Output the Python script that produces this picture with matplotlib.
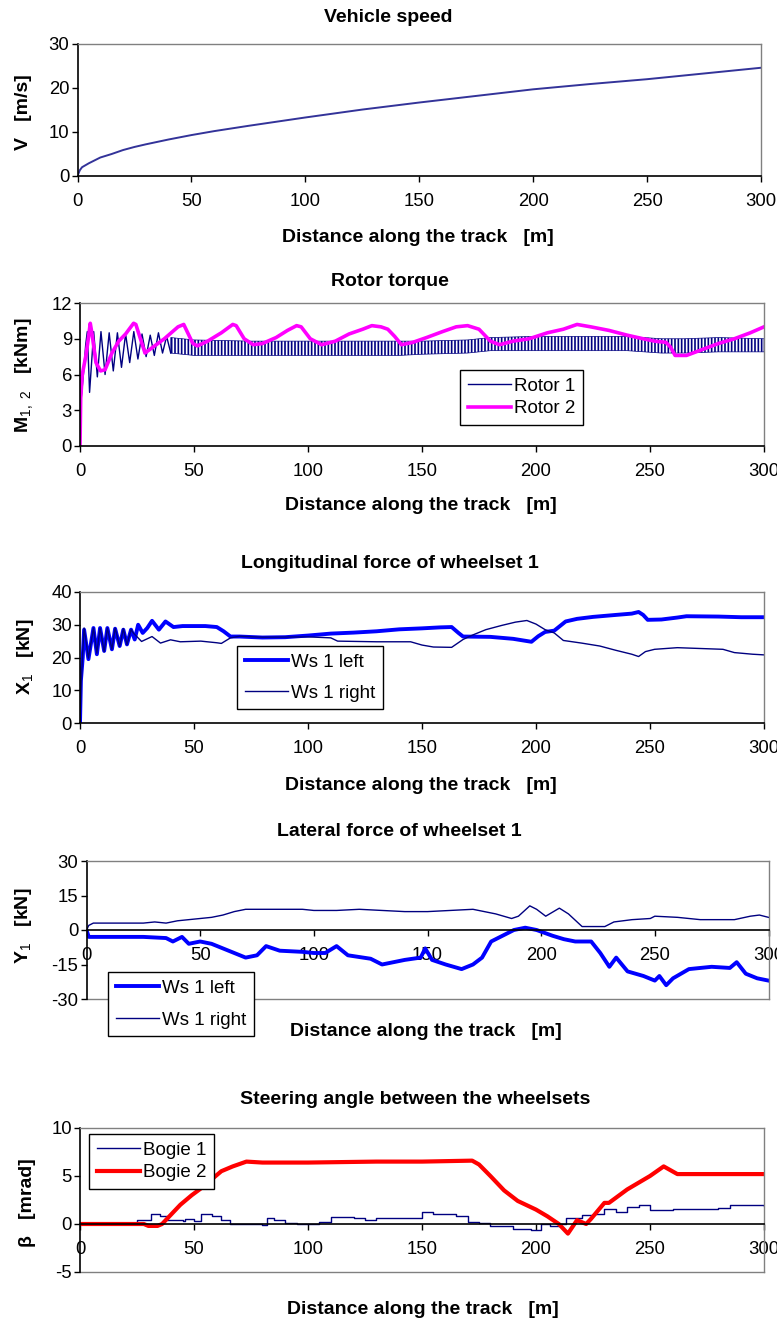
#!/usr/bin/env python3
"""Plot run-up figures: speed, rotor torque, wheelset forces, steering angle
"""

import numpy as np
import matplotlib; matplotlib.use('Agg')
import matplotlib.pyplot as plt

W, H = 777, 1323

##########################################################
# Vehicle speed
speed_x = [0, 1, 2, 5, 10, 15, 20, 25, 30, 40, 50, 60, 75, 100, 125, 150,
           175, 200, 225, 250, 275, 300]
speed_v = [0, 1.3, 2.0, 2.9, 4.2, 5.0, 5.9, 6.6, 7.2, 8.3, 9.3, 10.2, 11.4,
           13.3, 15.1, 16.7, 18.2, 19.7, 20.9, 22.0, 23.3, 24.6]

# Rotor torque, rotor 1: start transient, then a dense oscillation band
rot1_x = [0, 0.5, 1.5, 2.5, 3.2, 4.2, 6.0, 7.6, 9.2, 11.0, 12.8, 14.6, 16.4,
          18.2, 20.0, 21.8, 23.6, 25.4, 27.2, 29.0, 30.8, 32.6, 34.4, 36.2,
          38.0, 39.8]
rot1_y = [0, 4.0, 6.0, 8.5, 9.6, 4.5, 9.6, 5.8, 9.6, 6.0, 9.5, 6.3, 9.5, 6.6,
          9.4, 7.0, 9.6, 7.3, 9.4, 7.5, 9.3, 7.6, 9.5, 7.8, 9.2, 7.8]
band_x = [39.8, 50, 75, 100, 125, 140, 150, 170, 180, 200, 225, 240, 255, 265,
          280, 300]
band_hi = [9.1, 8.9, 8.8, 8.8, 8.8, 8.8, 8.8, 8.9, 9.1, 9.2, 9.2, 9.2, 9.0,
           9.0, 9.1, 9.0]
band_lo = [7.8, 7.6, 7.6, 7.6, 7.6, 7.6, 7.7, 7.8, 8.0, 8.0, 8.0, 8.0, 7.8,
           7.8, 7.9, 7.9]

# Rotor torque, rotor 2
rot2_x = [0, 0.3, 1.0, 2.5, 3.5, 4.5, 5.2, 7.0, 9.0, 11.0, 14.0, 17.0, 20.0,
          23.5, 24.5, 26.5, 28.5, 32.0, 37.0, 43.0, 45.5, 47.0, 49.5, 51.5,
          56.0, 62.0, 67.0, 68.5, 72.0, 76.0, 80.0, 86.0, 91.0, 95.0, 97.0,
          101.0, 106.0, 112.0, 118.0, 124.0, 128.0, 132.0, 135.0, 138.0,
          141.0, 146.0, 152.0, 159.0, 165.0, 170.0, 175.0, 177.0, 180.0,
          184.0, 190.0, 197.0, 205.0, 212.0, 218.0, 224.0, 232.0, 240.0,
          247.0, 252.0, 257.0, 259.0, 261.0, 266.0, 273.0, 280.0, 287.0,
          294.0, 300.0]
rot2_y = [0, 4.0, 6.0, 7.5, 8.8, 10.3, 9.5, 7.0, 6.3, 6.4, 7.8, 8.8, 9.4,
          10.3, 10.2, 9.0, 7.8, 8.3, 9.0, 10.0, 10.2, 9.6, 8.6, 8.4, 8.8, 9.5,
          10.2, 10.1, 9.0, 8.5, 8.6, 9.1, 9.7, 10.1, 10.0, 9.0, 8.5, 8.8, 9.4,
          9.8, 10.1, 10.0, 9.8, 9.2, 8.5, 8.7, 9.1, 9.6, 10.0, 10.1, 9.8, 9.4,
          8.8, 8.5, 8.8, 9.0, 9.5, 9.8, 10.2, 10.0, 9.7, 9.3, 9.0, 8.8, 8.7,
          8.3, 7.6, 7.6, 8.1, 8.6, 9.0, 9.5, 10.0]

# Longitudinal force of wheelset 1
x1l_x = [0, 0.4, 1.2, 1.8, 3.7, 5.9, 7.4, 8.8, 10.6, 12.0, 14.0, 15.4, 17.4,
         19.0, 20.6, 22.4, 24.0, 25.5, 27.5, 29.5, 31.6, 34.6, 37.5, 41, 45,
         55, 60, 63, 66, 70, 80, 90, 100, 110, 120, 130, 140, 150, 158, 163,
         166, 168, 180, 190, 198, 201, 204, 208, 213, 218, 225, 235, 242, 245,
         247, 249, 255, 262, 266, 280, 290, 300]
x1l_y = [0, 13, 20, 28.5, 19.5, 29, 21, 29, 22, 29, 22.5, 28.8, 23.5, 28.5,
         24, 28.5, 25.5, 30, 27.5, 29, 31.2, 28.5, 31, 29.3, 29.6, 29.6, 29.3,
         28, 26.4, 26.4, 26.1, 26.2, 26.7, 27.3, 27.6, 28.0, 28.6, 28.9, 29.2,
         29.3, 27.5, 26.4, 26.3, 25.7, 24.8, 26.5, 27.8, 28.2, 31.0, 31.8,
         32.4, 33.0, 33.4, 33.9, 33.0, 31.5, 31.6, 32.2, 32.6, 32.5, 32.3, 32.3]
x1r_x = [0, 0.4, 1.2, 1.8, 3.7, 5.9, 7.4, 8.8, 10.6, 12.0, 14.0, 15.4, 17.4,
         19.0, 20.6, 22.4, 23.5, 27.0, 31.6, 35.3, 39.7, 44, 53, 60, 62, 66,
         70, 80, 100, 110, 113, 130, 145, 150, 155, 163, 168, 172, 178, 185,
         191, 196, 200, 204, 208, 212, 220, 228, 235, 242, 245, 248, 252, 262,
         270, 282, 287, 295, 300]
x1r_y = [0, 10, 22, 29, 19.8, 29, 21.3, 29, 21.8, 29, 22.5, 29, 23.4, 28.8,
         23.9, 28.5, 27.4, 24.9, 26.4, 24.4, 25.4, 24.8, 25, 24.5, 24.3, 26.0,
         26.5, 26.2, 26.3, 26.0, 25, 24.8, 24.8, 23.8, 23.2, 23.1, 25.5, 26.8,
         28.5, 29.8, 30.8, 31.3, 30.2, 28.5, 27.5, 25.2, 24.4, 23.5, 22.2,
         21.0, 20.3, 21.8, 22.5, 23.0, 22.8, 22.5, 21.5, 21.0, 20.8]

# Lateral force of wheelset 1
y1l_x = [0, 1, 25, 35, 38, 42, 45, 50, 55, 60, 65, 70, 75, 79, 85, 95, 100,
         105, 110, 115, 125, 130, 140, 147, 149, 152, 158, 165, 170, 174, 178,
         182, 188, 193, 198, 205, 210, 215, 222, 226, 230, 233, 238, 245, 250,
         252, 255, 258, 265, 275, 283, 286, 290, 295, 300]
y1l_y = [0, -3, -3, -3.5, -5, -3, -6, -5, -6, -8, -10, -12, -11, -7, -9, -9.5,
         -10, -10, -7, -11, -12.5, -15, -13, -12, -8, -13, -15, -17, -15, -12,
         -5, -3, 0, 1, 0, -2.5, -4, -5, -5, -10, -16, -12, -18, -20, -22, -20,
         -24, -21, -17, -16, -16.5, -14, -19, -21, -22]
y1r_x = [0, 1, 3, 25, 30, 35, 40, 45, 50, 55, 60, 65, 70, 80, 95, 100, 110,
         120, 130, 140, 150, 160, 170, 175, 180, 187, 190, 195, 198, 202, 208,
         212, 218, 228, 232, 240, 248, 250, 260, 270, 285, 292, 296, 300]
y1r_y = [0, 2, 3, 3, 3.5, 3, 4, 4.5, 5, 5.5, 6.5, 8, 9, 9, 9, 8.5, 8.5, 9, 8.5,
         8, 8, 8.5, 9, 8, 7, 5, 6, 10.5, 9, 6, 9.5, 7, 1.5, 1.5, 3.5, 4.5, 5,
         6, 5.5, 4.5, 4.5, 6, 6.5, 5.5]

# Steering angle between the wheelsets
b1_x = [0, 23, 25, 31, 35, 38, 45, 46, 50, 53, 58, 62, 66, 75, 80, 82, 85, 90,
        95, 105, 110, 120, 125, 130, 145, 150, 155, 165, 170, 175, 180, 190,
        198, 202, 206, 210, 213, 220, 225, 230, 235, 240, 245, 250, 260, 270,
        280, 285, 300]
b1_y = [0, 0, 0.4, 1.0, 0.8, 0.4, 0.3, 0.5, 0.3, 1.0, 0.8, 0.4, 0, 0, -0.1,
        0.6, 0.4, 0.1, 0, 0.2, 0.7, 0.6, 0.4, 0.6, 0.6, 1.2, 1.0, 0.8, 0.2,
        0.1, -0.2, -0.5, -0.6, 0, -0.2, 0, 0.6, 0.9, 1.0, 1.6, 1.3, 1.8, 2.0,
        1.5, 1.6, 1.6, 1.7, 2.0, 1.9]
b2_x = [0, 28, 30, 34, 36, 40, 44, 49, 53, 57, 62, 67, 73, 80, 100, 130, 150,
        172, 175, 180, 186, 192, 200, 205, 210, 214, 218, 222, 224, 230, 232,
        240, 250, 256, 262, 300]
b2_y = [0, 0, -0.2, -0.2, 0, 1, 2, 3, 3.7, 4.5, 5.5, 6.0, 6.5, 6.4, 6.4, 6.5,
        6.5, 6.6, 6.2, 5, 3.5, 2.4, 1.5, 0.8, 0, -1, 0.4, 0, 0.5, 2.2, 2.2,
        3.6, 5, 6, 5.2, 5.2]

XLABEL = 'Distance along the track   [m]'
GRAY = '#808080'
NAVY = '#000080'
TICKFS = 13.3
LEGFS = 13.5

##########################################################
def pixaxes(fig, left, top, right, bottom):
    """Axes from a box given in figure pixels"""
    return fig.add_axes([left / W, 1 - bottom / H, (right - left) / W,
                         (bottom - top) / H])

def figtext(fig, x, y, s, **kw):
    fig.text(x / W, 1 - y / H, s, ha='center', va='center', **kw)

def style_axes(ax, ylim, yticks, zero_axis=False):
    """Excel-like plot area: black axes, gray frame"""
    ax.set_xlim(0, 300)
    ax.set_xticks(np.arange(0, 301, 50))
    ax.set_ylim(*ylim)
    ax.set_yticks(yticks)
    for s in ['top', 'right']:
        ax.spines[s].set_color(GRAY)
        ax.spines[s].set_linewidth(1.0)
    ax.spines['left'].set_linewidth(1.2)
    ax.spines['bottom'].set_linewidth(1.2)
    if zero_axis:
        ax.spines['bottom'].set_position(('data', 0))
        ax.plot([0, 1], [0, 0], transform=ax.transAxes, color=GRAY, lw=1.0,
                clip_on=False, zorder=0)
    ax.tick_params(axis='y', direction='out', length=4.3, width=1.0, pad=1.5,
                   labelsize=TICKFS)
    ax.tick_params(axis='x', direction='out', length=4.3, width=1.0, pad=8.0,
                   labelsize=TICKFS)

def legend(ax, fig, left, top, spacing):
    leg = ax.legend(loc='upper left', bbox_to_anchor=(left / W, 1 - top / H),
                    bbox_transform=fig.transFigure, borderaxespad=0,
                    fontsize=LEGFS, handlelength=2.3, handletextpad=0.2,
                    labelspacing=spacing, borderpad=0.4, fancybox=False,
                    framealpha=1, edgecolor='black')
    leg.get_frame().set_linewidth(1.0)
    return leg

##########################################################
def plot_all(outpath):
    plt.rcParams['font.family'] = ['Liberation Sans', 'DejaVu Sans']
    plt.rcParams['mathtext.fontset'] = 'custom'
    plt.rcParams['mathtext.rm'] = 'Liberation Sans'
    plt.rcParams['mathtext.bf'] = 'Liberation Sans:bold'
    plt.rcParams['axes.unicode_minus'] = False
    plt.rcParams['hatch.linewidth'] = 1.2

    fig = plt.figure(figsize=(W / 100, H / 100), dpi=100)
    bold = dict(fontsize=14, fontweight='bold')

    # 1. vehicle speed
    ax = pixaxes(fig, 77.5, 44, 761, 176)
    ax.plot(speed_x, speed_v, color='#333399', lw=1.4)
    style_axes(ax, (0, 30), [0, 10, 20, 30])
    figtext(fig, 388, 17, 'Vehicle speed', **bold)
    figtext(fig, 418, 237, XLABEL, **bold)
    figtext(fig, 23, 112, 'V   [m/s]', rotation=90, **bold)

    # 2. rotor torque
    ax = pixaxes(fig, 80, 303, 764, 446)
    ax.plot(rot1_x, rot1_y, color=NAVY, lw=1.0, label='Rotor 1')
    ax.fill_between(band_x, band_lo, band_hi, facecolor='none',
                    edgecolor=NAVY, hatch='|||||', linewidth=0.5)
    ax.plot(rot2_x, rot2_y, color='#FF00FF', lw=2.6, label='Rotor 2')
    style_axes(ax, (0, 12), [0, 3, 6, 9, 12])
    legend(ax, fig, 460, 370, 0.3)
    figtext(fig, 390, 281, 'Rotor torque', **bold)
    figtext(fig, 421, 506, XLABEL, **bold)
    figtext(fig, 25, 375, r'$\mathbf{M}_{1,\ 2}$   [kNm]', rotation=90, **bold)

    # 3. longitudinal force
    ax = pixaxes(fig, 80, 592, 764, 723)
    ax.plot(x1l_x, x1l_y, color='#0000FF', lw=2.8, label='Ws 1 left')
    ax.plot(x1r_x, x1r_y, color=NAVY, lw=1.0, label='Ws 1 right')
    style_axes(ax, (0, 40), [0, 10, 20, 30, 40])
    legend(ax, fig, 237, 646, 0.75)
    figtext(fig, 390, 564, 'Longitudinal force of wheelset 1', **bold)
    figtext(fig, 421, 786, XLABEL, **bold)
    figtext(fig, 25, 657, r'$\mathbf{X}_1$   [kN]', rotation=90, **bold)

    # 4. lateral force
    ax = pixaxes(fig, 86.5, 861, 768.5, 999)
    ax.plot(y1l_x, y1l_y, color='#0000FF', lw=2.8, label='Ws 1 left')
    ax.plot(y1r_x, y1r_y, color=NAVY, lw=1.0, label='Ws 1 right')
    style_axes(ax, (-30, 30), [-30, -15, 0, 15, 30], zero_axis=True)
    legend(ax, fig, 108, 972, 0.8)
    figtext(fig, 399, 832, 'Lateral force of wheelset 1', **bold)
    figtext(fig, 426, 1031, XLABEL, **bold)
    figtext(fig, 23, 926, r'$\mathbf{Y}_1$   [kN]', rotation=90, **bold)

    # 5. steering angle
    ax = pixaxes(fig, 80, 1128, 764, 1272)
    ax.plot(b1_x, b1_y, color=NAVY, lw=1.0, drawstyle='steps-post',
            label='Bogie 1')
    ax.plot(b2_x, b2_y, color='#FF0000', lw=3.0, label='Bogie 2')
    style_axes(ax, (-5, 10), [-5, 0, 5, 10], zero_axis=True)
    legend(ax, fig, 89, 1134, 0.3)
    figtext(fig, 415, 1099, 'Steering angle between the wheelsets', **bold)
    figtext(fig, 423, 1310, XLABEL, **bold)
    figtext(fig, 27, 1203, '\u03b2   [mrad]', rotation=90, **bold)

    fig.savefig(outpath, dpi=100)

##########################################################
def main():
    plot_all('out.png')

##########################################################
if __name__ == "__main__":
    main()
